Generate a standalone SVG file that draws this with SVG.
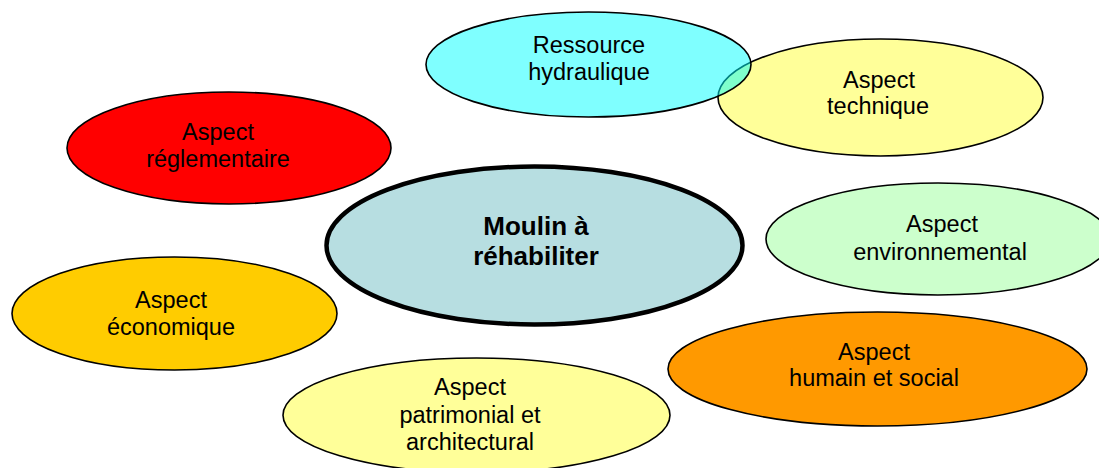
<svg xmlns="http://www.w3.org/2000/svg" width="1099" height="468" viewBox="0 0 1099 468">
<style>
.e{stroke:#000;stroke-width:1.6}
.t{font-family:"Liberation Sans",Arial,sans-serif;font-size:23.5px;fill:#000;text-anchor:middle}
.b{font-family:"Liberation Sans",Arial,sans-serif;font-size:26px;font-weight:bold;fill:#000;text-anchor:middle}
</style>
<rect width="1099" height="468" fill="#fff"/>
<g id="connectors"></g>
<g id="technique">
<ellipse class="e" cx="880.5" cy="97.5" rx="162.5" ry="58.5" fill="#FFFF99"/>
<text class="t" x="879" y="88">Aspect</text>
<text class="t" x="878" y="114">technique</text>
</g>
<g id="ressource">
<ellipse class="e" cx="588.5" cy="64.5" rx="162.5" ry="52.5" fill="#00FFFF" fill-opacity="0.5"/>
<text class="t" x="589" y="53">Ressource</text>
<text class="t" x="589" y="80">hydraulique</text>
</g>
<g id="reglementaire">
<ellipse class="e" cx="229" cy="148" rx="162" ry="56" fill="#FF0000"/>
<text class="t" x="218" y="140">Aspect</text>
<text class="t" x="218" y="167">réglementaire</text>
</g>
<g id="moulin">
<ellipse cx="534.5" cy="245.5" rx="208" ry="79" fill="#B7DEE1" stroke="#000" stroke-width="4.5"/>
<text class="b" x="536" y="235">Moulin à</text>
<text class="b" x="536" y="265">réhabiliter</text>
</g>
<g id="environnemental">
<ellipse class="e" cx="938" cy="239" rx="172" ry="56" fill="#CCFFCC"/>
<text class="t" x="942" y="232">Aspect</text>
<text class="t" x="940" y="260">environnemental</text>
</g>
<g id="economique">
<ellipse class="e" cx="174.5" cy="313.5" rx="162.5" ry="56.5" fill="#FFCC00"/>
<text class="t" x="171" y="308">Aspect</text>
<text class="t" x="171" y="335">économique</text>
</g>
<g id="humain">
<ellipse class="e" cx="877.5" cy="369" rx="209.5" ry="57" fill="#FF9900"/>
<text class="t" x="874" y="360">Aspect</text>
<text class="t" x="874" y="386">humain et social</text>
</g>
<g id="patrimonial">
<ellipse class="e" cx="476.5" cy="415.3" rx="193.5" ry="57.3" fill="#FFFF99"/>
<text class="t" x="470" y="395">Aspect</text>
<text class="t" x="470" y="423">patrimonial et</text>
<text class="t" x="470" y="450">architectural</text>
</g>
</svg>
